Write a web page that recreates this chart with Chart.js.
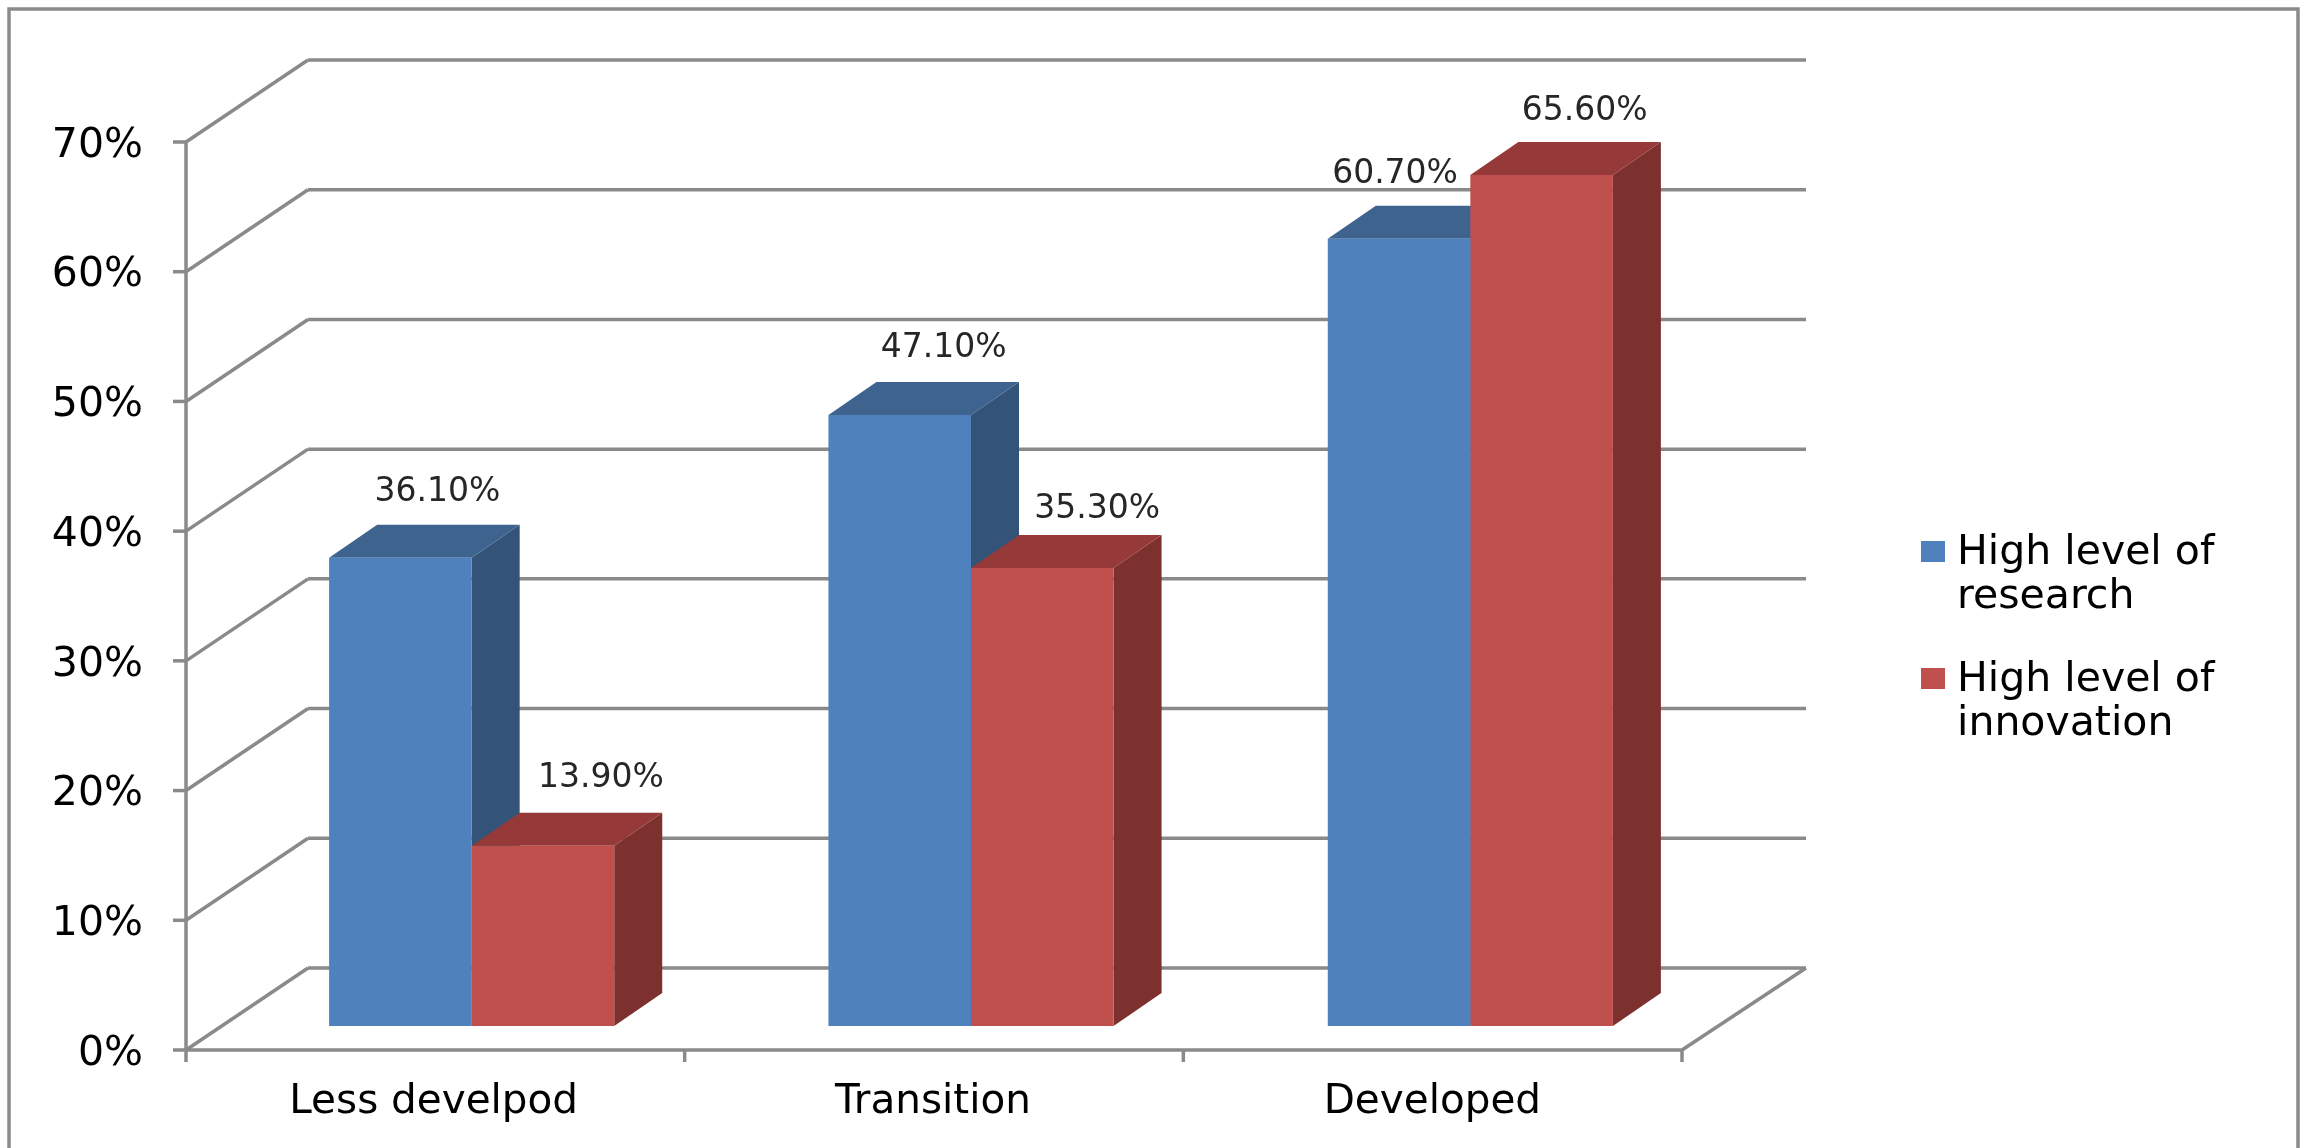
<!DOCTYPE html>
<html lang="en">
<head>
  <meta charset="UTF-8">
  <title>Research and innovation by development level</title>
  <script src="https://cdn.jsdelivr.net/npm/chart.js@4"></script>
  <style>
    html, body { margin: 0; padding: 0; background: #fff; overflow: hidden; }
    canvas { display: block; }
  </style>
</head>

<body>
  <canvas id="levelChart" width="2302" height="1148"></canvas>

<script>
  const categories = ['Less develpod', 'Transition', 'Developed']
  const researchValues = [36.1, 47.1, 60.7]
  const innovationValues = [13.9, 35.3, 65.6]
  const researchValueLabels = ['36.10%', '47.10%', '60.70%']
  const innovationValueLabels = ['13.90%', '35.30%', '65.60%']
  const yTickLabels = ['0%', '10%', '20%', '30%', '40%', '50%', '60%', '70%']
  const researchLegend = ['High level of', 'research']
  const innovationLegend = ['High level of', 'innovation']

  const FONT = '"DejaVu Sans", Verdana, sans-serif'
  const GRID = '#8a8a8a'

  // the bars sit on a plane inside the fake 3D box, these are the offsets to its walls
  const FRONT = { x: -36, y: 24 }
  const BACK = { x: 86, y: -58 }
  const DEPTH = { x: 48, y: -33 }

  // where each value label sits relative to the top centre of its bar
  const researchLabelNudge = [[37, -65], [44, -67], [-4, -64]]
  const innovationLabelNudge = [[58, -67], [55, -59], [43, -64]]

  function line(ctx, x1, y1, x2, y2) {
    ctx.beginPath()
    ctx.moveTo(x1, y1)
    ctx.lineTo(x2, y2)
    ctx.stroke()
  }

  function poly(ctx, color, pts) {
    ctx.fillStyle = color
    ctx.beginPath()
    pts.forEach((p, i) => i ? ctx.lineTo(p[0], p[1]) : ctx.moveTo(p[0], p[1]))
    ctx.closePath()
    ctx.fill()
  }

  const boxPlugin = {
    id: 'box',
    beforeDatasetsDraw(chart) {
      const ctx = chart.ctx
      const area = chart.chartArea
      const yScale = chart.scales.y
      ctx.save()

      // outer frame, its bottom edge is cut off by the page
      ctx.strokeStyle = GRID
      ctx.lineWidth = 3.5
      ctx.strokeRect(9, 9, 2289, 1170)

      const frontX = area.left + FRONT.x
      const frontRight = area.right + FRONT.x - 2
      const backX = area.left + BACK.x
      const backRight = area.right + BACK.x

      yTickLabels.forEach((label, i) => {
        const y = yScale.getPixelForValue(i * 10)
        line(ctx, frontX, y + FRONT.y, backX, y + BACK.y)
        line(ctx, backX, y + BACK.y, backRight, y + BACK.y)
        line(ctx, frontX - 13, y + FRONT.y, frontX, y + FRONT.y)
      })

      const floor = area.bottom + FRONT.y
      line(ctx, frontX, yScale.getPixelForValue(70) + FRONT.y, frontX, floor + 12)
      line(ctx, frontX, floor, frontRight, floor)
      line(ctx, frontRight, floor, backRight, area.bottom + BACK.y)
      const band = (frontRight - frontX) / categories.length
      for (let i = 1; i <= categories.length; i++) {
        line(ctx, frontX + band * i, floor, frontX + band * i, floor + 12)
      }

      // sides and tops of the bars, the library paints the front faces over them
      chart.data.datasets.forEach((ds, d) => {
        chart.getDatasetMeta(d).data.forEach(bar => {
          const left = bar.x - bar.width / 2
          const right = bar.x + bar.width / 2
          const top = bar.y
          const base = bar.base
          poly(ctx, ds.sideColor, [[right, top], [right + DEPTH.x, top + DEPTH.y], [right + DEPTH.x, base + DEPTH.y], [right, base]])
          poly(ctx, ds.topColor, [[left, top], [left + DEPTH.x, top + DEPTH.y], [right + DEPTH.x, top + DEPTH.y], [right, top]])
        })
      })
      ctx.restore()
    },
    afterDatasetsDraw(chart) {
      const ctx = chart.ctx
      ctx.save()

      ctx.font = '33px ' + FONT
      ctx.fillStyle = '#262626'
      ctx.textAlign = 'center'
      ctx.textBaseline = 'middle'
      chart.data.datasets.forEach((ds, d) => {
        chart.getDatasetMeta(d).data.forEach((bar, i) => {
          ctx.fillText(ds.valueLabels[i], bar.x + ds.labelNudge[i][0], bar.y + ds.labelNudge[i][1])
        })
      })

      ctx.font = '41px ' + FONT
      ctx.textAlign = 'left'
      ctx.textBaseline = 'alphabetic'
      chart.data.datasets.forEach((ds, d) => {
        const top = 541 + d * 127
        ctx.fillStyle = ds.backgroundColor
        ctx.fillRect(1921, top, 24, 21)
        ctx.fillStyle = '#000'
        ds.legendLines.forEach((text, i) => ctx.fillText(text, 1957, top + 23 + i * 44))
      })
      ctx.restore()
    }
  }

  new Chart(document.getElementById('levelChart'), {
    type: 'bar',
    data: {
      labels: categories,
      datasets: [
        {
          label: researchLegend.join(' '),
          data: researchValues,
          backgroundColor: '#4f81bd',
          topColor: '#3e638f',
          sideColor: '#335379',
          valueLabels: researchValueLabels,
          labelNudge: researchLabelNudge,
          legendLines: researchLegend
        },
        {
          label: innovationLegend.join(' '),
          data: innovationValues,
          backgroundColor: '#c0504d',
          topColor: '#953a38',
          sideColor: '#7c312f',
          valueLabels: innovationValueLabels,
          labelNudge: innovationLabelNudge,
          legendLines: innovationLegend
        }
      ]
    },
    plugins: [boxPlugin],
    options: {
      responsive: false,
      devicePixelRatio: 1,
      animation: false,
      categoryPercentage: 0.571,
      barPercentage: 1,
      layout: { padding: { left: 0, top: 118, right: 582, bottom: 0 } },
      plugins: { legend: { display: false }, tooltip: { enabled: false } },
      scales: {
        x: {
          grid: { display: false },
          border: { display: false },
          afterFit: scale => { scale.height = 122 },
          ticks: {
            color: '#000',
            font: { family: FONT, size: 40.5 },
            padding: 44,
            labelOffset: -38,
            maxRotation: 0
          }
        },
        y: {
          min: 0,
          max: 70,
          grid: { display: false },
          border: { display: false },
          afterFit: scale => { scale.width = 222 },
          ticks: {
            stepSize: 10,
            color: '#000',
            font: { family: FONT, size: 41 },
            padding: 71,
            labelOffset: 28,
            callback: (value, i) => yTickLabels[i]
          }
        }
      }
    }
  })
</script>
</body>
</html>
